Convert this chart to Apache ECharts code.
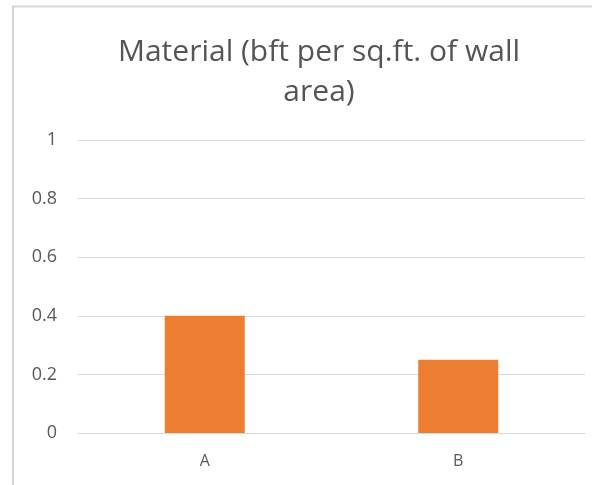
<!DOCTYPE html>
<html>
<head>
<meta charset="utf-8">
<script src="https://cdn.jsdelivr.net/npm/echarts@6/dist/echarts.min.js"></script>
<style>
  html, body { margin: 0; padding: 0; background: #fff; }
  #chart { width: 592px; height: 485px; }
</style>
</head>
<body>
<div id="chart"></div>
<script>
// Material usage per square foot of wall area
const categories = ['A', 'B'];
const materialValues = [0.4, 0.25];
const yTicks = [0, 0.2, 0.4, 0.6, 0.8, 1];

const chart = echarts.init(document.getElementById('chart'), null, { renderer: 'canvas' });

chart.setOption({
  backgroundColor: '#ffffff',
  animation: false,
  graphic: [{
    type: 'rect',
    shape: { x: 13, y: 6.5, width: 600, height: 500 },
    style: { fill: 'none', stroke: '#d6d6d6', lineWidth: 2 },
    silent: true
  }],
  title: {
    text: 'Material (bft per sq.ft. of wall\narea)',
    left: 314,
    top: 27,
    textAlign: 'center',
    textStyle: {
      fontFamily: 'Open Sans',
      fontSize: 30,
      fontWeight: 'normal',
      color: '#555555',
      lineHeight: 40
    }
  },
  grid: { left: 78, right: 7, top: 140, bottom: 52, containLabel: false },
  xAxis: {
    type: 'category',
    data: categories,
    axisLine: { show: true, lineStyle: { color: '#d9d9d9', width: 1 } },
    axisTick: { show: false },
    axisLabel: { color: '#595959', fontSize: 16, fontFamily: 'Open Sans', margin: 20 }
  },
  yAxis: {
    type: 'value',
    min: yTicks[0],
    max: yTicks[yTicks.length - 1],
    interval: 0.2,
    axisLine: { show: false },
    axisTick: { show: false },
    splitLine: { lineStyle: { color: '#d9d9d9', width: 1 } },
    axisLabel: { color: '#595959', fontSize: 18, fontFamily: 'Open Sans', margin: 21 }
  },
  series: [{
    type: 'bar',
    data: materialValues,
    barWidth: 80,
    itemStyle: { color: '#ED7D31' }
  }]
});
</script>
</body>
</html>
